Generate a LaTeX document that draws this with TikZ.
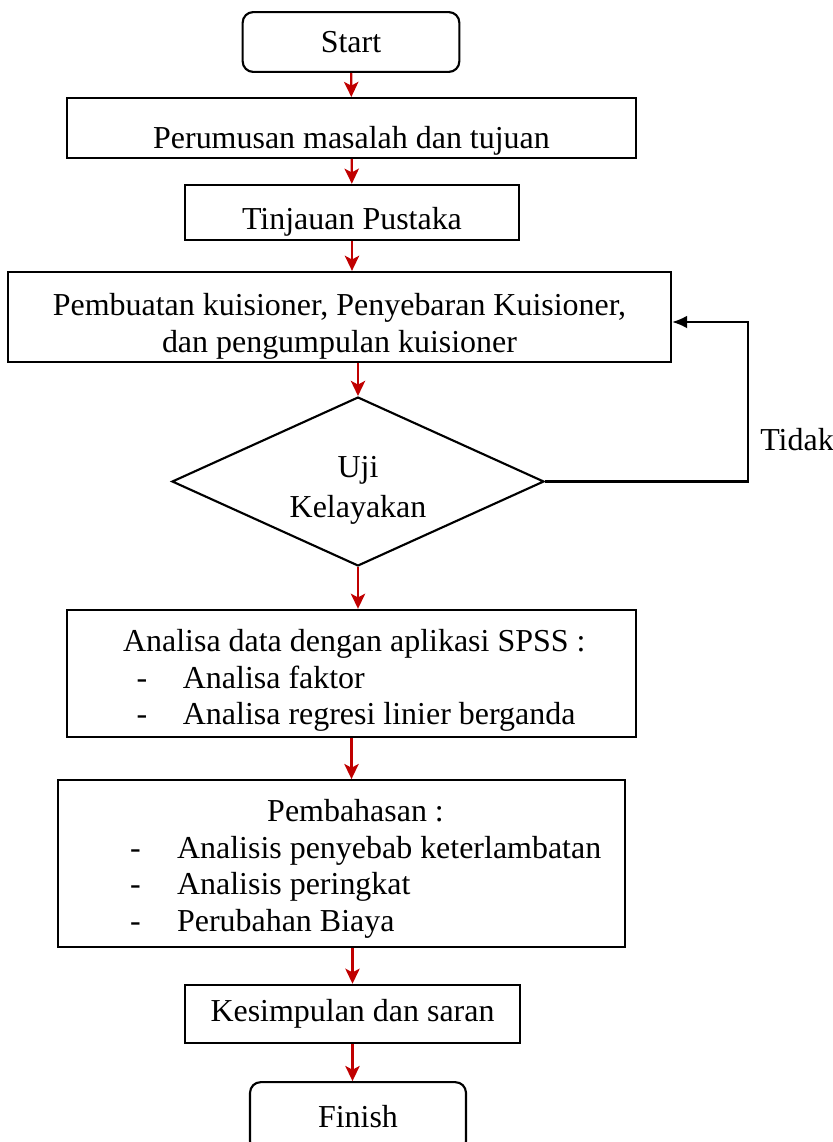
\documentclass[tikz,border=0pt]{standalone}
\usepackage{fontspec}
\setmainfont{Liberation Serif}
\usetikzlibrary{shapes.geometric,arrows.meta}
\definecolor{FlowRed}{HTML}{C00000}

\begin{document}
\begin{tikzpicture}[x=0.0132cm, y=-0.0132cm,
    stepbox/.style={draw, line width=0.8pt, inner sep=0pt, font=\fontsize{12}{14}\selectfont},
    endbox/.style={stepbox, rounded corners=0.14cm},
    flow/.style={FlowRed, line width=0.8pt, -{Stealth[length=0.2cm,width=0.19cm,inset=0.05cm]}},
    back/.style={black, line width=0.8pt, -{Latex[length=0.2cm,width=0.17cm]}}]
  \useasboundingbox (0,0) rectangle (833,1142);
  \clip (0,0) rectangle (833,1142);

  % terminals and process boxes
  \node[endbox, minimum width=2.86cm, minimum height=0.79cm] (start) at (351,42) {Start};
  \node[stepbox, minimum width=7.51cm, minimum height=0.79cm, text height=0.53cm, text depth=0pt] (rumusan) at (351.5,128) {Perumusan masalah dan tujuan};
  \node[stepbox, minimum width=4.41cm, minimum height=0.73cm, text height=0.44cm, text depth=0pt] (pustaka) at (352,212.5) {Tinjauan Pustaka};
  \node[stepbox, minimum width=8.75cm, minimum height=1.19cm, align=center, text height=0.95cm, text depth=0pt] (kuis) at (339.5,317) {Pembuatan kuisioner, Penyebaran Kuisioner,\\dan pengumpulan kuisioner};
  \node[stepbox, diamond, aspect=2.2, minimum width=4.91cm, minimum height=2.23cm, align=center, text height=0.96cm, text depth=0pt] (uji) at (358,481.5) {Uji\\[1pt]Kelayakan};
  \node[stepbox, minimum width=7.51cm, minimum height=1.68cm, text height=0pt, text depth=0.57cm] (spss) at (351.5,673.5)
    {\parbox[t]{7.51cm}{\fontsize{12}{13.7}\selectfont\raggedright
     \hspace*{0.74cm}Analisa data dengan aplikasi SPSS :\\
     \hspace*{0.92cm}\makebox[0.61cm][l]{-}Analisa faktor\\
     \hspace*{0.92cm}\makebox[0.61cm][l]{-}Analisa regresi linier berganda}};
  \node[stepbox, minimum width=7.48cm, minimum height=2.20cm, text height=0pt, text depth=1.10cm] (bahas) at (341.5,863.5)
    {\parbox[t]{7.48cm}{\fontsize{12}{13.7}\selectfont\raggedright
     \hspace*{2.76cm}Pembahasan :\\
     \hspace*{0.95cm}\makebox[0.62cm][l]{-}Analisis penyebab keterlambatan\\
     \hspace*{0.95cm}\makebox[0.62cm][l]{-}Analisis peringkat\\
     \hspace*{0.95cm}\makebox[0.62cm][l]{-}Perubahan Biaya}};
  \node[stepbox, minimum width=4.42cm, minimum height=0.77cm] (simpul) at (352.5,1014) {Kesimpulan dan saran};
  \node[endbox, minimum width=2.85cm, minimum height=0.92cm] (finish) at (358,1117) {Finish};

  % red flow arrows
  \draw[flow] (start) -- (rumusan);
  \draw[flow] (rumusan) -- (pustaka);
  \draw[flow] (pustaka.south) -- (pustaka.south |- kuis.north);
  \draw[flow] (uji.north |- kuis.south) -- (uji.north);
  \draw[flow] (uji.south) -- (uji.south |- spss.north);
  \draw[flow] (spss.south) -- (spss.south |- bahas.north);
  \draw[flow] (simpul.north |- bahas.south) -- (simpul.north);
  \draw[flow] (simpul.south) -- (simpul.south |- finish.north);

  % loop back when not feasible
  \coordinate (balik) at (748,322);
  \draw[back] (uji.east) -| (balik) -- (balik -| kuis.east);
  \node[font=\fontsize{12}{14}\selectfont] (tidak) at (797,440) {Tidak};
\end{tikzpicture}
\end{document}
